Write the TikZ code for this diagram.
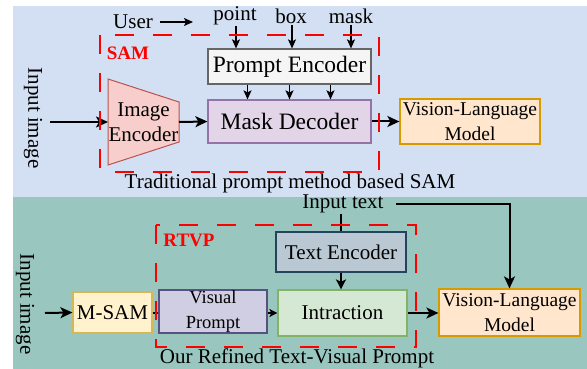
\documentclass[tikz,border=0pt]{standalone}
\usepackage{fontspec}
\setmainfont{Liberation Serif}
\usetikzlibrary{arrows.meta}
\definecolor{bgtop}{HTML}{D3DFF2}
\definecolor{bgbot}{HTML}{99C7BF}
\definecolor{redd}{HTML}{FF0000}
\tikzset{
  box/.style={draw, line width=1.2pt, inner sep=0pt, align=center},
  txt/.style={font=\fontsize{21}{25}\selectfont, inner sep=1pt, align=center},
  bigarr/.style={line width=2pt, -{Stealth[length=12pt,width=11pt,inset=3pt]}},
  midarr/.style={line width=1.8pt, -{Stealth[length=10pt,width=10pt,inset=2.5pt]}},
  smarr/.style={line width=1.3pt, -{Stealth[length=9pt,width=8pt,inset=2pt]}},
  reddash/.style={draw=redd, line width=2.5pt, dash pattern=on 19pt off 19pt},
  redlbl/.style={text=redd, font=\fontsize{19}{22}\selectfont\bfseries, inner sep=0pt}
}
\begin{document}
\begin{tikzpicture}[x=1pt,y=-1pt]
\useasboundingbox (0,0) rectangle (587,369);
% backgrounds
\fill[bgtop] (13,6) rectangle (587,197);
\fill[bgbot] (13,197) rectangle (587,369);

% ---------- top panel ----------
\node[txt, rotate=-90] (inimg1) at (33,118) {Input image};
\node[txt] (user) at (133,22) {User};
\coordinate (userend) at (193,22);
\coordinate (userstart) at (160,22);
\node[txt] (point) at (235,16) {point};
\node[txt] (boxw) at (291,16) {box};
\node[txt] (mask) at (351,16) {mask};

\node[box, fill=white!96!black, draw=black!60, minimum width=163pt, minimum height=35pt,
      font=\fontsize{23.5}{27}\selectfont] (pe) at (289.5,66.5) {Prompt Encoder};
\node[box, fill={rgb,255:red,225;green,213;blue,231}, draw={rgb,255:red,150;green,115;blue,166},
      minimum width=163pt, minimum height=43pt, font=\fontsize{23.5}{27}\selectfont] (md) at (289.5,121.5) {Mask Decoder};
\filldraw[fill={rgb,255:red,248;green,206;blue,204}, draw={rgb,255:red,184;green,84;blue,80}, line width=1pt]
  (108,79) -- (179,102) -- (179,142) -- (108,165) -- cycle;
\node[txt] (ie) at (143.5,122) {Image\\Encoder};
\coordinate (ieL) at (108,122);
\coordinate (ieR) at (179,122);
\node[box, fill={rgb,255:red,255;green,230;blue,204}, draw={rgb,255:red,215;green,155;blue,0},
      minimum width=140pt, minimum height=45pt, font=\fontsize{19.5}{25}\selectfont] (vlm1) at (470,121.5) {Vision-Language\\Model};
\coordinate (in1) at (50,122);

\draw[line width=1.3pt, -{Stealth[length=9pt,width=8pt,inset=2pt]}] (userstart) -- (userend);
\draw[smarr] (point.south -| 236,0) -- (pe.north -| 236,0);
\draw[smarr] (boxw.south -| 292,0) -- (pe.north -| 292,0);
\draw[smarr] (mask.south -| 351,0) -- (pe.north -| 351,0);
\draw[smarr] ([xshift=-42pt]pe.south) -- ([xshift=-42pt]md.north);
\draw[smarr] (pe.south) -- (md.north);
\draw[smarr] ([xshift=41pt]pe.south) -- ([xshift=41pt]md.north);
\draw[bigarr] (in1) -- (ieL);
\draw[bigarr] (ieR) -- (md.west);
\draw[bigarr] (md.east) -- (vlm1.west);

\draw[reddash] (100,35) rectangle (379,172);
\node[redlbl] (samlbl) at (128,53) {SAM};
\node[txt] (trad) at (290,183) {Traditional prompt method based SAM};

% ---------- bottom panel ----------
\node[txt, rotate=-90] (inimg2) at (25,304) {Input image};
\coordinate (in2) at (45,313);
\node[box, fill={rgb,255:red,255;green,242;blue,204}, draw={rgb,255:red,214;green,182;blue,86},
      minimum width=79pt, minimum height=41pt, font=\fontsize{21}{25}\selectfont] (msam) at (112.5,312.5) {M-SAM};
\node[box, fill={rgb,255:red,208;green,206;blue,226}, draw={rgb,255:red,86;green,81;blue,126},
      minimum width=108pt, minimum height=43pt, font=\fontsize{18.5}{25}\selectfont] (vp) at (213,311.5) {Visual\\Prompt};
\node[box, fill={rgb,255:red,213;green,232;blue,212}, draw={rgb,255:red,130;green,179;blue,102},
      minimum width=129pt, minimum height=46pt, font=\fontsize{21}{25}\selectfont] (intr) at (342.5,313) {Intraction};
\node[box, fill={rgb,255:red,186;green,200;blue,211}, draw={rgb,255:red,35;green,68;blue,93},
      minimum width=130pt, minimum height=40pt, font=\fontsize{21}{25}\selectfont] (te) at (341,252) {Text Encoder};
\node[box, fill={rgb,255:red,255;green,230;blue,204}, draw={rgb,255:red,215;green,155;blue,0},
      minimum width=141pt, minimum height=47pt, font=\fontsize{19.5}{25}\selectfont] (vlm2) at (509.5,312.5) {Vision-Language\\Model};
\node[txt] (intext) at (343,204) {Input text};
\coordinate (itR) at (396,204);

\draw[bigarr] (in2) -- (msam.west);
\draw[line width=2pt] (msam.east) -- (vp.west |- msam.east);
\draw[line width=1.5pt, -{Stealth[length=8pt,width=8pt,inset=2pt]}] (vp.east |- 0,313) -- (intr.west |- 0,313);
\draw[line width=1.5pt] (intext.south -| te.north) -- (te.north);
\draw[midarr] (te.south) -- (te.south |- intr.north);
\draw[bigarr] (itR) -| (vlm2.north);
\draw[bigarr] (intr.east) -- (vlm2.west |- intr.east);

\draw[reddash] (156,225) rectangle (416,347);
\node[redlbl] (rtvplbl) at (189,240) {RTVP};
\node[txt] (ours) at (297,358) {Our Refined Text-Visual Prompt};
\end{tikzpicture}
\end{document}
